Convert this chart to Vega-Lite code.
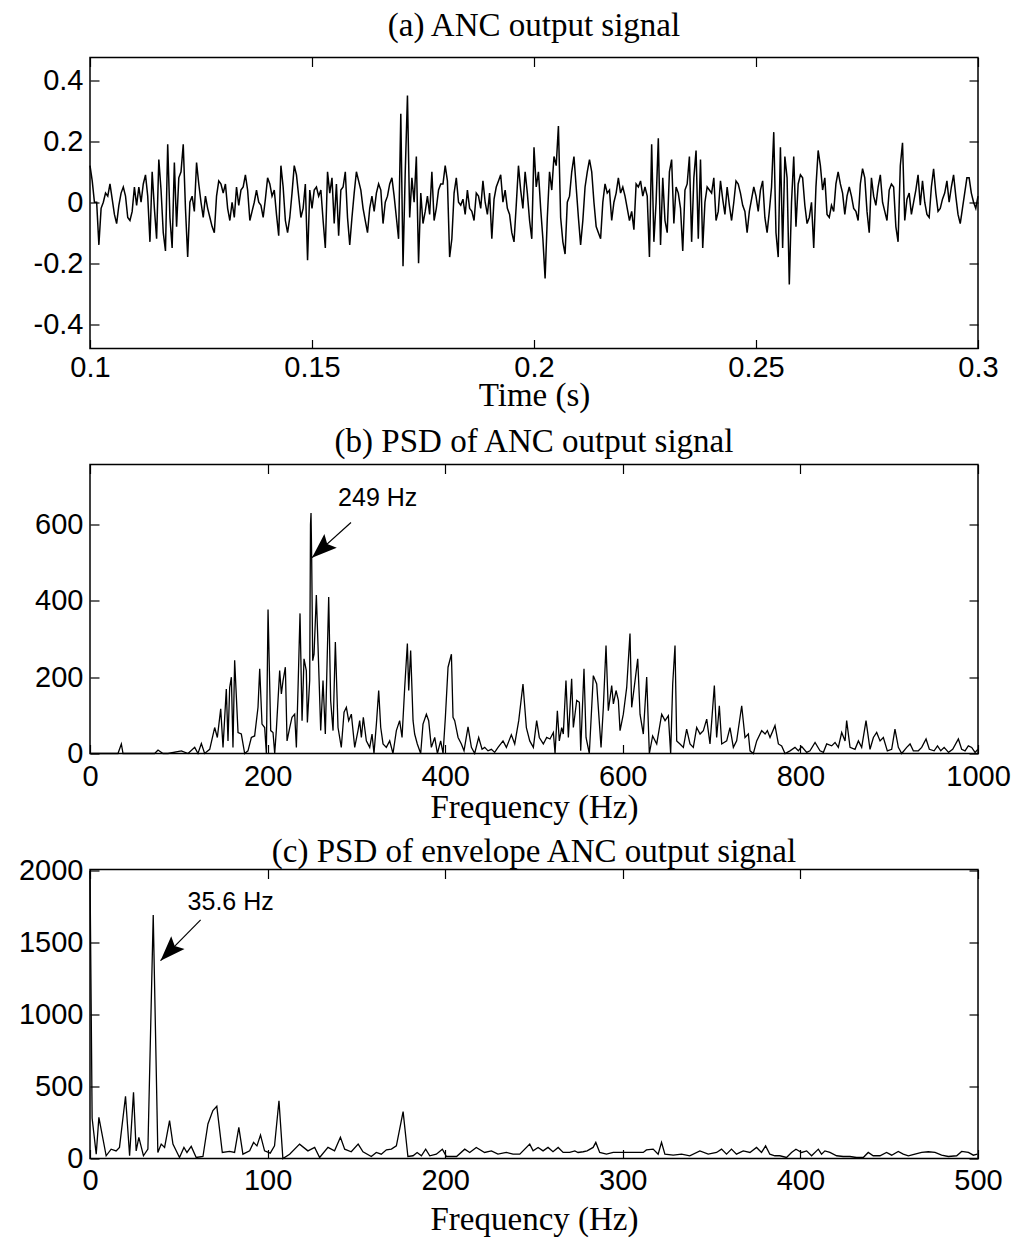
{
"$schema": "https://vega.github.io/schema/vega-lite/v6.json",
"autosize": {"type": "pad"},
"padding": {"left": 17, "top": 8.5, "right": 5, "bottom": 5},
"background": "white",
"bounds": "flush",
"spacing": 116,
"config": {
 "view": {"stroke": "black", "strokeWidth": 1.5},
 "axis": {"domain": false, "grid": false, "tickColor": "black", "tickSize": -9, "tickWidth": 1.2, "labelFont": "Liberation Sans", "labelFontSize": 29, "labelColor": "black", "labelFlush": false, "labelOverlap": false, "labelExpr": "'' + datum.value", "titleFont": "Liberation Serif", "titleFontSize": 33, "titleFontWeight": "normal", "titleColor": "black"},
 "title": {"font": "Liberation Serif", "fontSize": 33, "fontWeight": "normal", "color": "black", "anchor": "middle", "frame": "group"}
},
"datasets": {
"sig": [
{"t":0.1,"v":0.12},{"t":0.1005,"v":0.07},{"t":0.101,"v":0},{"t":0.1015,"v":0},{"t":0.102,"v":-0.14},{"t":0.1025,"v":-0.02},{"t":0.103,"v":0},{"t":0.1035,"v":0.03},{"t":0.104,"v":0.02},{"t":0.1045,"v":0.06},
{"t":0.105,"v":0.01},{"t":0.1055,"v":-0.04},{"t":0.106,"v":-0.07},{"t":0.1065,"v":-0.01},{"t":0.107,"v":0.03},{"t":0.1075,"v":0.05},{"t":0.108,"v":0.02},{"t":0.1085,"v":-0.05},{"t":0.109,"v":-0.06},{"t":0.1095,"v":-0.03},
{"t":0.11,"v":0.05},{"t":0.1105,"v":-0.01},{"t":0.111,"v":0.05},{"t":0.1115,"v":0},{"t":0.112,"v":0.06},{"t":0.1125,"v":0.09},{"t":0.113,"v":0.02},{"t":0.1135,"v":-0.13},{"t":0.114,"v":0.1},{"t":0.1145,"v":-0.02},
{"t":0.115,"v":-0.12},{"t":0.1155,"v":0.14},{"t":0.116,"v":0.04},{"t":0.1165,"v":-0.1},{"t":0.117,"v":-0.16},{"t":0.1175,"v":0.19},{"t":0.118,"v":-0.05},{"t":0.1185,"v":-0.15},{"t":0.119,"v":0.13},{"t":0.1195,"v":-0.08},
{"t":0.12,"v":0.08},{"t":0.1205,"v":0.1},{"t":0.121,"v":0.19},{"t":0.1215,"v":-0.02},{"t":0.122,"v":-0.18},{"t":0.1225,"v":0},{"t":0.123,"v":0.02},{"t":0.1235,"v":-0.03},{"t":0.124,"v":0.13},{"t":0.1245,"v":0.06},
{"t":0.125,"v":0},{"t":0.1255,"v":-0.05},{"t":0.126,"v":0.02},{"t":0.1265,"v":-0.02},{"t":0.127,"v":-0.05},{"t":0.1275,"v":-0.08},{"t":0.128,"v":-0.1},{"t":0.1285,"v":0.02},{"t":0.129,"v":0.07},{"t":0.1295,"v":0.06},
{"t":0.13,"v":0.03},{"t":0.1305,"v":0.06},{"t":0.131,"v":-0.02},{"t":0.1315,"v":-0.06},{"t":0.132,"v":0},{"t":0.1325,"v":-0.05},{"t":0.133,"v":0.05},{"t":0.1335,"v":-0.01},{"t":0.134,"v":0.04},{"t":0.1345,"v":0.05},
{"t":0.135,"v":0.09},{"t":0.1355,"v":0.04},{"t":0.136,"v":-0.06},{"t":0.1365,"v":-0.03},{"t":0.137,"v":0},{"t":0.1375,"v":0.04},{"t":0.138,"v":0},{"t":0.1385,"v":-0.01},{"t":0.139,"v":-0.05},{"t":0.1395,"v":0.01},
{"t":0.14,"v":0.08},{"t":0.1405,"v":0.06},{"t":0.141,"v":0.02},{"t":0.1415,"v":0.04},{"t":0.142,"v":-0.04},{"t":0.1425,"v":-0.11},{"t":0.143,"v":0.12},{"t":0.1435,"v":0.05},{"t":0.144,"v":-0.06},{"t":0.1445,"v":-0.1},
{"t":0.145,"v":-0.05},{"t":0.1455,"v":0.03},{"t":0.146,"v":0.12},{"t":0.1465,"v":0.09},{"t":0.147,"v":0.02},{"t":0.1475,"v":-0.05},{"t":0.148,"v":-0.02},{"t":0.1485,"v":0.06},{"t":0.149,"v":-0.19},{"t":0.1495,"v":0.04},
{"t":0.15,"v":-0.02},{"t":0.1505,"v":0.04},{"t":0.151,"v":0.05},{"t":0.1515,"v":0.02},{"t":0.152,"v":0.04},{"t":0.1525,"v":-0.06},{"t":0.153,"v":-0.15},{"t":0.1535,"v":0.1},{"t":0.154,"v":0.03},{"t":0.1545,"v":0.08},
{"t":0.155,"v":-0.07},{"t":0.1555,"v":0.06},{"t":0.156,"v":-0.11},{"t":0.1565,"v":0.04},{"t":0.157,"v":0.05},{"t":0.1575,"v":0.1},{"t":0.158,"v":-0.05},{"t":0.1585,"v":-0.14},{"t":0.159,"v":-0.05},{"t":0.1595,"v":0.03},
{"t":0.16,"v":0.1},{"t":0.1605,"v":0.07},{"t":0.161,"v":0.04},{"t":0.1615,"v":-0.02},{"t":0.162,"v":-0.06},{"t":0.1625,"v":-0.1},{"t":0.163,"v":-0.02},{"t":0.1635,"v":0.02},{"t":0.164,"v":-0.03},{"t":0.1645,"v":0.03},
{"t":0.165,"v":0.06},{"t":0.1655,"v":0.04},{"t":0.166,"v":-0.07},{"t":0.1665,"v":0},{"t":0.167,"v":0.02},{"t":0.1675,"v":0.06},{"t":0.168,"v":0.08},{"t":0.1685,"v":0.02},{"t":0.169,"v":-0.05},{"t":0.1695,"v":-0.12},
{"t":0.17,"v":0.29},{"t":0.1705,"v":-0.21},{"t":0.171,"v":0.1},{"t":0.1715,"v":0.35},{"t":0.172,"v":-0.05},{"t":0.1725,"v":0.08},{"t":0.173,"v":0},{"t":0.1735,"v":0.15},{"t":0.174,"v":-0.2},{"t":0.1745,"v":0.03},
{"t":0.175,"v":-0.07},{"t":0.1755,"v":-0.03},{"t":0.176,"v":0.02},{"t":0.1765,"v":-0.04},{"t":0.177,"v":0.1},{"t":0.1775,"v":-0.06},{"t":0.178,"v":-0.02},{"t":0.1785,"v":0.04},{"t":0.179,"v":0.06},{"t":0.1795,"v":0.06},
{"t":0.18,"v":0.12},{"t":0.1805,"v":0.07},{"t":0.181,"v":-0.18},{"t":0.1815,"v":-0.12},{"t":0.182,"v":0.03},{"t":0.1825,"v":0.08},{"t":0.183,"v":0},{"t":0.1835,"v":-0.01},{"t":0.184,"v":0.01},{"t":0.1845,"v":-0.04},
{"t":0.185,"v":0.04},{"t":0.1855,"v":-0.02},{"t":0.186,"v":-0.03},{"t":0.1865,"v":-0.06},{"t":0.187,"v":0.03},{"t":0.1875,"v":0.02},{"t":0.188,"v":-0.02},{"t":0.1885,"v":0.07},{"t":0.189,"v":0},{"t":0.1895,"v":-0.04},
{"t":0.19,"v":0.03},{"t":0.1905,"v":-0.12},{"t":0.191,"v":0.01},{"t":0.1915,"v":0.05},{"t":0.192,"v":0.07},{"t":0.1925,"v":0.09},{"t":0.193,"v":0},{"t":0.1935,"v":0.04},{"t":0.194,"v":-0.02},{"t":0.1945,"v":-0.04},
{"t":0.195,"v":-0.1},{"t":0.1955,"v":-0.13},{"t":0.196,"v":-0.01},{"t":0.1965,"v":0.12},{"t":0.197,"v":0.04},{"t":0.1975,"v":-0.02},{"t":0.198,"v":0.1},{"t":0.1985,"v":0.03},{"t":0.199,"v":-0.06},{"t":0.1995,"v":-0.12},
{"t":0.2,"v":0.18},{"t":0.2005,"v":0.05},{"t":0.201,"v":0.1},{"t":0.2015,"v":-0.02},{"t":0.202,"v":-0.12},{"t":0.2025,"v":-0.25},{"t":0.203,"v":-0.05},{"t":0.2035,"v":0.1},{"t":0.204,"v":0.04},{"t":0.2045,"v":0.15},
{"t":0.205,"v":0.12},{"t":0.2055,"v":0.25},{"t":0.206,"v":-0.05},{"t":0.2065,"v":-0.13},{"t":0.207,"v":-0.17},{"t":0.2075,"v":0},{"t":0.208,"v":0.02},{"t":0.2085,"v":0.1},{"t":0.209,"v":0.15},{"t":0.2095,"v":0.05},
{"t":0.21,"v":-0.05},{"t":0.2105,"v":-0.14},{"t":0.211,"v":-0.06},{"t":0.2115,"v":0.05},{"t":0.212,"v":0.1},{"t":0.2125,"v":0.14},{"t":0.213,"v":0.1},{"t":0.2135,"v":0},{"t":0.214,"v":-0.08},{"t":0.2145,"v":-0.1},
{"t":0.215,"v":-0.12},{"t":0.2155,"v":0},{"t":0.216,"v":0.06},{"t":0.2165,"v":0.03},{"t":0.217,"v":0.04},{"t":0.2175,"v":-0.06},{"t":0.218,"v":0},{"t":0.2185,"v":0.03},{"t":0.219,"v":0.08},{"t":0.2195,"v":0.03},
{"t":0.22,"v":0.05},{"t":0.2205,"v":0.02},{"t":0.221,"v":-0.02},{"t":0.2215,"v":-0.06},{"t":0.222,"v":-0.03},{"t":0.2225,"v":-0.09},{"t":0.223,"v":0.06},{"t":0.2235,"v":0.05},{"t":0.224,"v":0.07},{"t":0.2245,"v":0.02},
{"t":0.225,"v":0.05},{"t":0.2255,"v":0.02},{"t":0.226,"v":-0.18},{"t":0.2265,"v":0.19},{"t":0.227,"v":-0.13},{"t":0.2275,"v":0},{"t":0.228,"v":0.21},{"t":0.2285,"v":-0.14},{"t":0.229,"v":0.08},{"t":0.2295,"v":-0.06},
{"t":0.23,"v":-0.1},{"t":0.2305,"v":0.1},{"t":0.231,"v":0.14},{"t":0.2315,"v":-0.07},{"t":0.232,"v":0.05},{"t":0.2325,"v":0.03},{"t":0.233,"v":-0.02},{"t":0.2335,"v":-0.16},{"t":0.234,"v":0.04},{"t":0.2345,"v":0.06},
{"t":0.235,"v":0.15},{"t":0.2355,"v":-0.13},{"t":0.236,"v":0.08},{"t":0.2365,"v":0.17},{"t":0.237,"v":-0.12},{"t":0.2375,"v":0.14},{"t":0.238,"v":-0.15},{"t":0.2385,"v":0},{"t":0.239,"v":0.05},{"t":0.2395,"v":0.04},
{"t":0.24,"v":0.03},{"t":0.2405,"v":0.08},{"t":0.241,"v":-0.06},{"t":0.2415,"v":-0.03},{"t":0.242,"v":0.07},{"t":0.2425,"v":0.01},{"t":0.243,"v":-0.04},{"t":0.2435,"v":0.05},{"t":0.244,"v":-0.01},{"t":0.2445,"v":-0.06},
{"t":0.245,"v":0},{"t":0.2455,"v":0.07},{"t":0.246,"v":0.06},{"t":0.2465,"v":0.03},{"t":0.247,"v":-0.01},{"t":0.2475,"v":-0.03},{"t":0.248,"v":-0.1},{"t":0.2485,"v":-0.03},{"t":0.249,"v":0.01},{"t":0.2495,"v":0.05},
{"t":0.25,"v":0.02},{"t":0.2505,"v":-0.03},{"t":0.251,"v":0.04},{"t":0.2515,"v":0.07},{"t":0.252,"v":-0.05},{"t":0.2525,"v":-0.1},{"t":0.253,"v":-0.03},{"t":0.2535,"v":0.05},{"t":0.254,"v":0.23},{"t":0.2545,"v":-0.1},
{"t":0.255,"v":-0.18},{"t":0.2555,"v":0.18},{"t":0.256,"v":-0.15},{"t":0.2565,"v":0.15},{"t":0.257,"v":0.08},{"t":0.2575,"v":-0.27},{"t":0.258,"v":0},{"t":0.2585,"v":0.15},{"t":0.259,"v":-0.08},{"t":0.2595,"v":0.06},
{"t":0.26,"v":0.09},{"t":0.2605,"v":0.08},{"t":0.261,"v":-0.01},{"t":0.2615,"v":-0.07},{"t":0.262,"v":-0.05},{"t":0.2625,"v":0},{"t":0.263,"v":-0.15},{"t":0.2635,"v":0.05},{"t":0.264,"v":0.17},{"t":0.2645,"v":0.12},
{"t":0.265,"v":0.04},{"t":0.2655,"v":0.08},{"t":0.266,"v":-0.04},{"t":0.2665,"v":-0.05},{"t":0.267,"v":-0.01},{"t":0.2675,"v":-0.03},{"t":0.268,"v":0.06},{"t":0.2685,"v":0.1},{"t":0.269,"v":0.06},{"t":0.2695,"v":0.03},
{"t":0.27,"v":-0.04},{"t":0.2705,"v":0.02},{"t":0.271,"v":0.05},{"t":0.2715,"v":0.02},{"t":0.272,"v":-0.02},{"t":0.2725,"v":-0.03},{"t":0.273,"v":-0.06},{"t":0.2735,"v":0.06},{"t":0.274,"v":0.11},{"t":0.2745,"v":0.08},
{"t":0.275,"v":-0.03},{"t":0.2755,"v":-0.1},{"t":0.276,"v":0.08},{"t":0.2765,"v":0.02},{"t":0.277,"v":-0.01},{"t":0.2775,"v":0.05},{"t":0.278,"v":0.09},{"t":0.2785,"v":0},{"t":0.279,"v":-0.03},{"t":0.2795,"v":-0.06},
{"t":0.28,"v":0.04},{"t":0.2805,"v":0.06},{"t":0.281,"v":0.05},{"t":0.2815,"v":-0.08},{"t":0.282,"v":-0.13},{"t":0.2825,"v":0.12},{"t":0.283,"v":0.195},{"t":0.2835,"v":-0.06},{"t":0.284,"v":0.01},{"t":0.2845,"v":0.03},
{"t":0.285,"v":-0.04},{"t":0.2855,"v":0},{"t":0.286,"v":0.04},{"t":0.2865,"v":0.09},{"t":0.287,"v":-0.01},{"t":0.2875,"v":0.07},{"t":0.288,"v":0},{"t":0.2885,"v":-0.04},{"t":0.289,"v":-0.05},{"t":0.2895,"v":0.05},
{"t":0.29,"v":0.11},{"t":0.2905,"v":0.03},{"t":0.291,"v":-0.03},{"t":0.2915,"v":-0.02},{"t":0.292,"v":0.01},{"t":0.2925,"v":0.03},{"t":0.293,"v":0.07},{"t":0.2935,"v":0},{"t":0.294,"v":0.05},{"t":0.2945,"v":0.09},
{"t":0.295,"v":0.02},{"t":0.2955,"v":-0.04},{"t":0.296,"v":-0.07},{"t":0.2965,"v":-0.02},{"t":0.297,"v":0.03},{"t":0.2975,"v":0.08},{"t":0.298,"v":0.08},{"t":0.2985,"v":0.03},{"t":0.299,"v":0},{"t":0.2995,"v":-0.02},
{"t":0.3,"v":0.02}
],
"psd": [
{"f":0,"p":0},{"f":31.5,"p":0},{"f":35.3,"p":25},{"f":37.2,"p":0},{"f":72.8,"p":0},{"f":76.6,"p":9},{"f":82.2,"p":0},{"f":87.8,"p":0},{"f":102.9,"p":7},{"f":110.4,"p":0},{"f":117.9,"p":16},{"f":121.6,"p":0},{"f":125.4,"p":26},{"f":129.1,"p":0},{"f":134.8,"p":11},{"f":140.4,"p":68},{"f":143.4,"p":42},{"f":147.2,"p":117},{"f":149.8,"p":16},{"f":153.5,"p":169},{"f":155.4,"p":33},{"f":157.3,"p":173},{"f":159.2,"p":200},{"f":161,"p":16},{"f":162.9,"p":244},{"f":166.7,"p":55},{"f":170.4,"p":51},{"f":174.2,"p":0},{"f":177.9,"p":7},{"f":181.7,"p":42},{"f":185.4,"p":46},{"f":189.2,"p":121},{"f":191.1,"p":222},{"f":193.7,"p":77},{"f":196.7,"p":68},{"f":198.6,"p":0},{"f":200.5,"p":377},{"f":203.5,"p":60},{"f":206.1,"p":55},{"f":208,"p":0},{"f":209.8,"p":60},{"f":213.6,"p":217},{"f":215.5,"p":156},{"f":217.4,"p":191},{"f":220,"p":226},{"f":221.9,"p":33},{"f":224.9,"p":68},{"f":227.5,"p":95},{"f":230.5,"p":103},{"f":232.4,"p":16},{"f":234.3,"p":173},{"f":236.5,"p":367},{"f":238.8,"p":86},{"f":241,"p":248},{"f":243.6,"p":217},{"f":244.8,"p":81},{"f":247.4,"p":191},{"f":248.3,"p":600},{"f":248.9,"p":630},{"f":249.6,"p":520},{"f":250.8,"p":243},{"f":252.3,"p":260},{"f":254.9,"p":415},{"f":256.8,"p":280},{"f":259.8,"p":60},{"f":262.4,"p":191},{"f":265,"p":51},{"f":268.8,"p":410},{"f":271,"p":139},{"f":273.7,"p":60},{"f":276.3,"p":292},{"f":279.3,"p":68},{"f":283,"p":16},{"f":286.1,"p":108},{"f":288.7,"p":121},{"f":291.3,"p":86},{"f":294.3,"p":103},{"f":298.1,"p":16},{"f":301.8,"p":60},{"f":303.7,"p":86},{"f":305.6,"p":42},{"f":307.8,"p":95},{"f":311.2,"p":33},{"f":315,"p":16},{"f":317.6,"p":51},{"f":319.8,"p":0},{"f":322.5,"p":77},{"f":325.1,"p":165},{"f":327.4,"p":68},{"f":330,"p":25},{"f":333.7,"p":16},{"f":337.5,"p":33},{"f":341.2,"p":0},{"f":345,"p":60},{"f":348.7,"p":86},{"f":351.4,"p":42},{"f":354.4,"p":173},{"f":357.4,"p":288},{"f":358.9,"p":165},{"f":361.1,"p":270},{"f":363.8,"p":86},{"f":365.6,"p":51},{"f":368.6,"p":25},{"f":372.4,"p":0},{"f":375,"p":77},{"f":378.8,"p":103},{"f":381.4,"p":86},{"f":384.4,"p":16},{"f":388.2,"p":42},{"f":391.2,"p":0},{"f":394.9,"p":33},{"f":397.6,"p":0},{"f":400.2,"p":95},{"f":403.2,"p":226},{"f":407,"p":260},{"f":408.8,"p":95},{"f":410.7,"p":86},{"f":414.5,"p":42},{"f":418.2,"p":25},{"f":421.2,"p":7},{"f":425.7,"p":70},{"f":429.5,"p":16},{"f":433.2,"p":0},{"f":437.7,"p":42},{"f":441.5,"p":11},{"f":444.5,"p":16},{"f":448.2,"p":7},{"f":452,"p":11},{"f":455.7,"p":3},{"f":459.5,"p":16},{"f":465.1,"p":33},{"f":468.9,"p":16},{"f":474.5,"p":49},{"f":478.3,"p":25},{"f":482.8,"p":86},{"f":487.6,"p":182},{"f":491.4,"p":68},{"f":495.2,"p":33},{"f":499.3,"p":16},{"f":503,"p":86},{"f":506,"p":42},{"f":510.5,"p":25},{"f":514.3,"p":42},{"f":518,"p":38},{"f":521.8,"p":55},{"f":523.7,"p":0},{"f":526.3,"p":112},{"f":528.5,"p":33},{"f":531.2,"p":68},{"f":533,"p":51},{"f":536,"p":191},{"f":538.7,"p":42},{"f":542.4,"p":196},{"f":544.3,"p":68},{"f":548.1,"p":139},{"f":551.1,"p":134},{"f":552.6,"p":7},{"f":556.3,"p":222},{"f":558.6,"p":42},{"f":562.3,"p":0},{"f":566.8,"p":204},{"f":570.6,"p":182},{"f":575.5,"p":16},{"f":578.1,"p":121},{"f":581.1,"p":283},{"f":583.7,"p":112},{"f":587.5,"p":178},{"f":589.4,"p":130},{"f":592.4,"p":165},{"f":595,"p":139},{"f":596.9,"p":60},{"f":600.6,"p":103},{"f":604.4,"p":173},{"f":608.1,"p":314},{"f":610,"p":121},{"f":613.8,"p":191},{"f":616.8,"p":248},{"f":619.4,"p":103},{"f":623.1,"p":51},{"f":626.9,"p":200},{"f":629.9,"p":0},{"f":633.6,"p":46},{"f":638.2,"p":25},{"f":643.8,"p":103},{"f":647.6,"p":86},{"f":651.3,"p":99},{"f":653.9,"p":0},{"f":656.2,"p":182},{"f":658.8,"p":283},{"f":660.7,"p":33},{"f":664.4,"p":25},{"f":668.2,"p":16},{"f":671.9,"p":64},{"f":675.7,"p":25},{"f":679.4,"p":16},{"f":683.2,"p":68},{"f":687,"p":51},{"f":690.7,"p":60},{"f":694.5,"p":90},{"f":698.2,"p":25},{"f":703.1,"p":178},{"f":705.7,"p":42},{"f":708.7,"p":125},{"f":711.4,"p":25},{"f":717,"p":33},{"f":720.7,"p":68},{"f":724.5,"p":16},{"f":728.2,"p":33},{"f":733.9,"p":125},{"f":737.6,"p":42},{"f":741.4,"p":51},{"f":743.3,"p":7},{"f":747,"p":0},{"f":750.8,"p":33},{"f":756.4,"p":60},{"f":760.2,"p":51},{"f":762.8,"p":60},{"f":765.8,"p":42},{"f":771.4,"p":73},{"f":775.2,"p":25},{"f":778.9,"p":20},{"f":782.7,"p":0},{"f":788.3,"p":7},{"f":793.9,"p":16},{"f":797.7,"p":7},{"f":801.5,"p":18},{"f":807.1,"p":3},{"f":810.8,"p":7},{"f":816.5,"p":29},{"f":822.1,"p":7},{"f":825.9,"p":3},{"f":829.6,"p":25},{"f":835.2,"p":20},{"f":839,"p":29},{"f":842.7,"p":16},{"f":846.5,"p":55},{"f":850.3,"p":33},{"f":852.1,"p":86},{"f":855.9,"p":16},{"f":861.5,"p":11},{"f":865.3,"p":33},{"f":869,"p":16},{"f":873.9,"p":86},{"f":878.4,"p":11},{"f":882.2,"p":42},{"f":885.9,"p":55},{"f":889.7,"p":33},{"f":893.4,"p":42},{"f":897.9,"p":7},{"f":902.8,"p":11},{"f":906.5,"p":64},{"f":910.3,"p":16},{"f":914.1,"p":0},{"f":919.7,"p":16},{"f":923.5,"p":25},{"f":927.2,"p":7},{"f":932.8,"p":7},{"f":936.6,"p":16},{"f":941.5,"p":38},{"f":945.2,"p":11},{"f":950.6,"p":7},{"f":954.4,"p":20},{"f":958.1,"p":7},{"f":961.9,"p":16},{"f":966.8,"p":3},{"f":971.5,"p":11},{"f":977.9,"p":38},{"f":981.6,"p":11},{"f":985.4,"p":7},{"f":989.1,"p":20},{"f":992.9,"p":16},{"f":996.7,"p":3},{"f":1000,"p":11}
],
"env": [
{"f":0,"p":2000},{"f":1.2,"p":280},{"f":3.5,"p":30},{"f":5,"p":286},{"f":9.1,"p":19},{"f":11.9,"p":65},{"f":14.7,"p":53},{"f":16.6,"p":77},{"f":20,"p":433},{"f":22.3,"p":19},{"f":24.5,"p":460},{"f":26,"p":53},{"f":27.5,"p":147},{"f":30.1,"p":19},{"f":32.6,"p":65},{"f":35.6,"p":1693},{"f":38.2,"p":42},{"f":40.1,"p":100},{"f":42,"p":77},{"f":44.8,"p":263},{"f":46.7,"p":100},{"f":50.4,"p":7},{"f":52.9,"p":77},{"f":54.6,"p":42},{"f":57,"p":84},{"f":59.8,"p":7},{"f":63.6,"p":14},{"f":66.4,"p":240},{"f":69.2,"p":333},{"f":71.4,"p":363},{"f":74.5,"p":42},{"f":78.6,"p":49},{"f":81.4,"p":42},{"f":83.8,"p":216},{"f":86.1,"p":30},{"f":89.9,"p":53},{"f":92.1,"p":112},{"f":94,"p":88},{"f":96,"p":163},{"f":98.3,"p":53},{"f":101.5,"p":37},{"f":103.9,"p":88},{"f":106.4,"p":402},{"f":108.6,"p":0},{"f":112.4,"p":30},{"f":118,"p":100},{"f":122.7,"p":53},{"f":126.5,"p":77},{"f":129.3,"p":7},{"f":134,"p":77},{"f":137.7,"p":53},{"f":141,"p":147},{"f":143.4,"p":65},{"f":147.1,"p":47},{"f":151,"p":100},{"f":153.7,"p":47},{"f":158.4,"p":14},{"f":161.2,"p":42},{"f":164,"p":30},{"f":166.9,"p":60},{"f":169.7,"p":65},{"f":172.5,"p":88},{"f":176.3,"p":326},{"f":179,"p":14},{"f":181.9,"p":19},{"f":184.2,"p":42},{"f":186.6,"p":19},{"f":189,"p":65},{"f":191.3,"p":19},{"f":195,"p":30},{"f":198.4,"p":65},{"f":200.7,"p":14},{"f":206.4,"p":14},{"f":211,"p":65},{"f":213.8,"p":42},{"f":217.5,"p":77},{"f":222.2,"p":42},{"f":226,"p":53},{"f":229.7,"p":30},{"f":234.4,"p":42},{"f":238.2,"p":30},{"f":242,"p":30},{"f":247.6,"p":100},{"f":249.5,"p":53},{"f":252.3,"p":77},{"f":255.1,"p":53},{"f":257.9,"p":77},{"f":260.7,"p":47},{"f":263.6,"p":77},{"f":266.4,"p":42},{"f":270.1,"p":42},{"f":273,"p":53},{"f":274.8,"p":42},{"f":277.7,"p":47},{"f":279.9,"p":53},{"f":283.3,"p":77},{"f":284.8,"p":112},{"f":287,"p":42},{"f":290.8,"p":30},{"f":294.6,"p":42},{"f":300.2,"p":42},{"f":305.8,"p":42},{"f":311.5,"p":42},{"f":313.3,"p":60},{"f":317.1,"p":65},{"f":319.9,"p":30},{"f":321.8,"p":112},{"f":323.7,"p":30},{"f":328.4,"p":23},{"f":333.1,"p":30},{"f":337.7,"p":19},{"f":343.4,"p":53},{"f":348.1,"p":30},{"f":352.8,"p":42},{"f":355.6,"p":65},{"f":358.4,"p":30},{"f":361.2,"p":65},{"f":364,"p":30},{"f":367.8,"p":53},{"f":371.6,"p":42},{"f":375.3,"p":77},{"f":378.1,"p":42},{"f":380.4,"p":88},{"f":382.8,"p":30},{"f":385.6,"p":19},{"f":388.4,"p":19},{"f":392.2,"p":7},{"f":395,"p":42},{"f":397.5,"p":65},{"f":400.7,"p":42},{"f":403.5,"p":53},{"f":406.3,"p":19},{"f":410.1,"p":65},{"f":411.9,"p":30},{"f":413.8,"p":53},{"f":416.6,"p":42},{"f":420.4,"p":19},{"f":424.1,"p":14},{"f":427.9,"p":14},{"f":431.6,"p":7},{"f":435.4,"p":7},{"f":438.2,"p":42},{"f":441,"p":19},{"f":444.8,"p":19},{"f":448.5,"p":42},{"f":451.4,"p":23},{"f":455.1,"p":49},{"f":457.9,"p":30},{"f":460.8,"p":19},{"f":464.5,"p":30},{"f":468.3,"p":42},{"f":472,"p":47},{"f":475.8,"p":42},{"f":479.5,"p":23},{"f":483.3,"p":14},{"f":488,"p":19},{"f":490.8,"p":49},{"f":494.6,"p":42},{"f":497.4,"p":23},{"f":499.6,"p":30}
]
},
"vconcat": [
{
 "width": 888, "height": 291,
 "title": {"text": "(a) ANC output signal", "offset": 14},
 "data": {"name": "sig"},
 "layer": [
  {"mark": {"type": "line", "color": "black", "strokeWidth": 1.5},
   "encoding": {
    "x": {"field": "t", "type": "quantitative", "scale": {"domain": [0.1, 0.3], "nice": false, "zero": false},
          "axis": {"values": [0.1, 0.15, 0.2, 0.25, 0.3], "title": "Time (s)", "labelPadding": 14, "titlePadding": -3.5}},
    "y": {"field": "v", "type": "quantitative", "scale": {"domain": [-0.48, 0.475], "nice": false, "zero": false},
          "axis": {"values": [-0.4, -0.2, 0, 0.2, 0.4], "title": null, "labelPadding": 16}}
   }},
  {"mark": {"type": "line", "strokeOpacity": 0},
   "encoding": {
    "x": {"field": "t", "type": "quantitative", "axis": {"orient": "top", "values": [0.1, 0.15, 0.2, 0.25, 0.3], "labels": false, "title": null}},
    "y": {"field": "v", "type": "quantitative", "axis": {"orient": "right", "values": [-0.4, -0.2, 0, 0.2, 0.4], "labels": false, "title": null}}
   }}
 ],
 "resolve": {"axis": {"x": "independent", "y": "independent"}}
},
{
 "width": 888, "height": 289,
 "title": {"text": "(b) PSD of ANC output signal", "offset": 5},
 "data": {"name": "psd"},
 "layer": [
  {"mark": {"type": "line", "color": "black", "strokeWidth": 1.3},
   "encoding": {
    "x": {"field": "f", "type": "quantitative", "scale": {"domain": [0, 1000], "nice": false},
          "axis": {"values": [0, 200, 400, 600, 800, 1000], "title": "Frequency (Hz)", "labelPadding": 17.5, "titlePadding": 0}},
    "y": {"field": "p", "type": "quantitative", "scale": {"domain": [0, 757], "nice": false},
          "axis": {"values": [0, 200, 400, 600], "title": null, "labelPadding": 16}}
   }},
  {"mark": {"type": "line", "strokeOpacity": 0},
   "encoding": {
    "x": {"field": "f", "type": "quantitative", "axis": {"orient": "top", "values": [0, 200, 400, 600, 800, 1000], "labels": false, "title": null}},
    "y": {"field": "p", "type": "quantitative", "axis": {"orient": "right", "values": [0, 200, 400, 600], "labels": false, "title": null}}
   }},
  {"data": {"values": [{"f": 293.9, "p": 605, "f2": 250, "p2": 513}]},
   "mark": {"type": "rule", "color": "black", "strokeWidth": 1.2},
   "encoding": {
    "x": {"field": "f", "type": "quantitative", "axis": null},
    "y": {"field": "p", "type": "quantitative", "axis": null},
    "x2": {"field": "f2"}, "y2": {"field": "p2"}
   }},
  {"data": {"values": [{"f": 250, "p": 513}]},
   "mark": {"type": "point", "shape": "M0,0L0.37,1L0,0.82L-0.37,1Z", "filled": true, "color": "black", "opacity": 1, "size": 2500, "angle": 228, "strokeWidth": 0},
   "encoding": {
    "x": {"field": "f", "type": "quantitative", "axis": null},
    "y": {"field": "p", "type": "quantitative", "axis": null}
   }},
  {"data": {"values": [{"f": 324, "p": 668, "label": "249 Hz"}]},
   "mark": {"type": "text", "font": "Liberation Sans", "fontSize": 25, "align": "center", "baseline": "middle", "color": "black"},
   "encoding": {
    "x": {"field": "f", "type": "quantitative", "axis": null},
    "y": {"field": "p", "type": "quantitative", "axis": null},
    "text": {"field": "label"}
   }}
 ],
 "resolve": {"axis": {"x": "independent", "y": "independent"}}
},
{
 "width": 888, "height": 289,
 "title": {"text": "(c) PSD of envelope ANC output signal", "offset": -12},
 "data": {"name": "env"},
 "layer": [
  {"mark": {"type": "line", "color": "black", "strokeWidth": 1.3},
   "encoding": {
    "x": {"field": "f", "type": "quantitative", "scale": {"domain": [0, 500], "nice": false},
          "axis": {"values": [0, 100, 200, 300, 400, 500], "title": "Frequency (Hz)", "labelPadding": 17, "titlePadding": 7.5}},
    "y": {"field": "p", "type": "quantitative", "scale": {"domain": [0, 2010], "nice": false},
          "axis": {"values": [0, 500, 1000, 1500, 2000], "title": null, "labelPadding": 16}}
   }},
  {"mark": {"type": "line", "strokeOpacity": 0},
   "encoding": {
    "x": {"field": "f", "type": "quantitative", "axis": {"orient": "top", "values": [0, 100, 200, 300, 400, 500], "labels": false, "title": null}},
    "y": {"field": "p", "type": "quantitative", "axis": {"orient": "right", "values": [0, 500, 1000, 1500, 2000], "labels": false, "title": null}}
   }},
  {"data": {"values": [{"f": 62.3, "p": 1660, "f2": 39.7, "p2": 1376}]},
   "mark": {"type": "rule", "color": "black", "strokeWidth": 1.2},
   "encoding": {
    "x": {"field": "f", "type": "quantitative", "axis": null},
    "y": {"field": "p", "type": "quantitative", "axis": null},
    "x2": {"field": "f2"}, "y2": {"field": "p2"}
   }},
  {"data": {"values": [{"f": 39.7, "p": 1376}]},
   "mark": {"type": "point", "shape": "M0,0L0.37,1L0,0.82L-0.37,1Z", "filled": true, "color": "black", "opacity": 1, "size": 2500, "angle": 224, "strokeWidth": 0},
   "encoding": {
    "x": {"field": "f", "type": "quantitative", "axis": null},
    "y": {"field": "p", "type": "quantitative", "axis": null}
   }},
  {"data": {"values": [{"f": 79.2, "p": 1787, "label": "35.6 Hz"}]},
   "mark": {"type": "text", "font": "Liberation Sans", "fontSize": 25, "align": "center", "baseline": "middle", "color": "black"},
   "encoding": {
    "x": {"field": "f", "type": "quantitative", "axis": null},
    "y": {"field": "p", "type": "quantitative", "axis": null},
    "text": {"field": "label"}
   }}
 ],
 "resolve": {"axis": {"x": "independent", "y": "independent"}}
}
]
}
